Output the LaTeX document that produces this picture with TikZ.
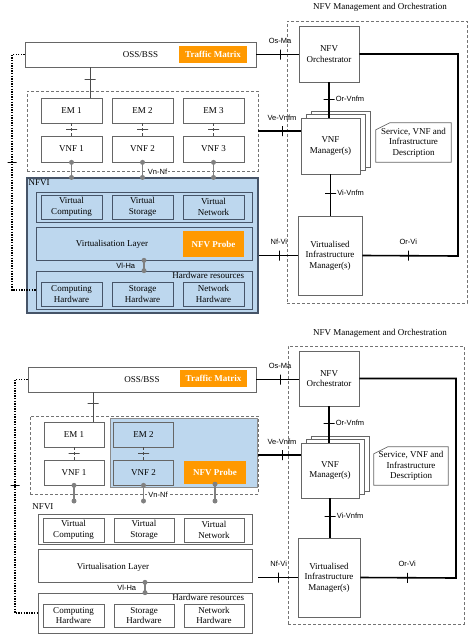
\documentclass[tikz,border=0pt]{standalone}
\usepackage{fontspec}
\setmainfont{Liberation Serif}
\setsansfont{Liberation Sans}
\usetikzlibrary{positioning,fit}
\definecolor{nfviblue}{RGB}{189,215,238}
\definecolor{probeorange}{RGB}{255,153,0}
\definecolor{nfviedge}{RGB}{70,84,104}

\begin{document}
\begin{tikzpicture}[x=1pt,y=-1pt,node distance=71pt,font=\fontsize{9}{10.5}\selectfont]
\tikzstyle{box}=[rectangle,draw=black!60,line width=0.7pt,inner sep=0pt,align=center]
\tikzstyle{blk}=[box,minimum width=61pt,minimum height=25pt]
\tikzstyle{accent}=[rectangle,fill=probeorange,text=white,inner sep=0pt,
font=\fontsize{9}{10.5}\selectfont\bfseries]
\tikzstyle{dashbox}=[rectangle,draw=black!55,densely dashed,line width=0.6pt,inner sep=0pt]
\tikzstyle{iface}=[line width=1.6pt]
\tikzstyle{vtick}=[rectangle,draw,solid,line width=0.7pt,minimum width=0pt,minimum height=10pt,inner sep=0pt]
\tikzstyle{htick}=[rectangle,draw,solid,line width=0.7pt,minimum width=11pt,minimum height=0pt,inner sep=0pt]
\tikzstyle{ifl}=[font=\sffamily\fontsize{7.5}{8}\selectfont,inner sep=0pt]
\tikzstyle{gconn}=[draw=black!50,line width=1.8pt]
\tikzstyle{joint}=[circle,fill=black!50,inner sep=0pt,minimum size=5pt]
\tikzstyle{oam}=[line width=1.5pt,dash pattern=on 1.3pt off 1.3pt]
\tikzstyle{thinl}=[draw=black!70,line width=0.6pt]

\useasboundingbox (0,0) rectangle (474,635);

\node (mano) at (380,7) {NFV Management and Orchestration};
\node[dashbox,minimum width=180pt,minimum height=282pt] (manobox) at (377,162) {};
\node[box,minimum width=231pt,minimum height=25pt] (oss) at (140.5,54.5) {OSS/BSS};
\node[accent,minimum width=68pt,minimum height=17pt] (tm) at (213,54.5) {Traffic Matrix};

\node[dashbox,minimum width=231pt,minimum height=80pt] (vnfs) at (142.5,131) {};
\node[blk] (em1) at (71.5,110.5) {EM 1};
\node[blk,right of=em1] (em2) {EM 2};
\node[blk,right of=em2] (em3) {EM 3};
\node[blk,minimum height=26pt] (vnf1) at (71.5,149) {VNF 1};
\node[blk,minimum height=26pt,right of=vnf1] (vnf2) {VNF 2};
\node[blk,minimum height=26pt,right of=vnf2] (vnf3) {VNF 3};
\node[ifl,fill=white,inner sep=1pt] (vnnf) at ([xshift=15pt]vnfs.south) {Vn-Nf};

\node[rectangle,draw=nfviedge,fill=nfviblue,line width=1.1pt,minimum width=231pt,minimum height=135pt] (nfvi) at (142.5,245.5) {};
\node[anchor=north west,inner sep=2pt] (nfvil) at (nfvi.north west) {NFVI};
\node[box,draw=nfviedge,minimum width=216pt,minimum height=30pt] (virt) at (144,207) {};
\node[blk,draw=nfviedge,minimum height=24pt] (vc) at (71.5,207) {Virtual\\Computing};
\node[blk,draw=nfviedge,minimum height=24pt,right of=vc] (vs) {Virtual\\Storage};
\node[blk,draw=nfviedge,minimum height=24pt,right of=vs] (vn) {Virtual\\Network};
\node[box,draw=nfviedge,minimum width=216pt,minimum height=33pt] (vl) at (144,243.5) {};
\node (vlt) at (112,244) {Virtualisation Layer};
\node[accent,minimum width=61pt,minimum height=26pt] (probe) at (213.5,244) {NFV Probe};
\node[box,draw=nfviedge,minimum width=216pt,minimum height=38pt] (hw) at (144,290) {};
\node[anchor=north east,inner sep=1pt] (hwl) at ([xshift=-7pt]hw.north east) {Hardware resources};
\node[blk,draw=nfviedge,minimum height=24pt] (hc) at (71.5,294) {Computing\\Hardware};
\node[blk,draw=nfviedge,minimum height=24pt,right of=hc] (hs) {Storage\\Hardware};
\node[blk,draw=nfviedge,minimum height=24pt,right of=hs] (hn) {Network\\Hardware};

\node[box,minimum width=60pt,minimum height=56pt] (orch) at (329,54) {NFV\\Orchestrator};
\node[box,fill=white,minimum width=59pt,minimum height=56pt] (vnfm3) at (340.5,139) {};
\node[box,fill=white,minimum width=59pt,minimum height=56pt] (vnfm2) at (335.5,142.5) {};
\node[box,fill=white,minimum width=59pt,minimum height=56pt] (vnfm) at (330.5,146) {VNF\\Manager(s)};
\node[align=center,inner sep=0pt,minimum width=75pt,minimum height=39pt] (desc) at (413.5,142.5) {Service, VNF and\\Infrastructure\\Description};
\draw[black!60,line width=0.7pt] ([xshift=14pt]desc.north west) -- (desc.north east) -- (desc.south east)
  -- (desc.south west) -- ([yshift=-7pt]desc.north west) -- cycle;
\node[box,minimum width=64pt,minimum height=79pt] (vim) at (330,255.5) {Virtualised\\Infrastructure\\Manager(s)};

\coordinate (orvi) at (458,256);
\coordinate (oamx) at (12,0);
\draw[iface] (oss.east) -- node[pos=0.56,vtick]{} node[pos=0.56,above=10pt,ifl]{Os-Ma} (oss.east -| orch.west);
\draw[iface] (orch.south) -- node[pos=0.47,htick]{} node[pos=0.47,right=6pt,ifl]{Or-Vnfm} (orch.south |- vnfm.north);
\draw[iface] (vnfs.east) -- node[pos=0.56,vtick]{} node[pos=0.56,above=10pt,ifl]{Ve-Vnfm} (vnfs.east -| vnfm.west);
\draw[iface] (vnfm.south) -- node[pos=0.45,htick]{} node[pos=0.45,right=6pt,ifl]{Vi-Vnfm} (vnfm.south |- vim.north);
\draw[iface] (nfvi.east |- vim.west) -- node[pos=0.52,vtick]{} node[pos=0.52,above=10pt,ifl]{Nf-Vi} (vim.west);
\draw[iface] (orch.east) -| (orvi) -- node[pos=0.52,vtick]{} node[pos=0.52,above=10pt,ifl]{Or-Vi} (vim.east);

\draw[thinl] ([xshift=18.5pt]em1.north) -- node[pos=0.61,htick]{} ([xshift=18.5pt]em1.north |- oss.south);
\foreach \i in {1,2,3}
  \draw[thinl,densely dashed] (em\i.south) -- node[htick]{} (vnf\i.north);
\foreach \i in {1,2,3}
  \draw[gconn] (vnf\i.south) node[joint]{} -- (vnf\i.south |- nfvi.north) node[joint]{};
\draw[gconn] (vl.south) node[joint]{} -- node[left=8pt,ifl,text=black]{Vl-Ha} (hw.north) node[joint]{};
\draw[oam] (oss.west) -| (oamx |- hw.west) -- (hw.west);
\node[htick,minimum width=9pt] (oamt) at (oamx |- vnf1.south) {};

\node (bmano) at (380,333) {NFV Management and Orchestration};
\node[dashbox,minimum width=176pt,minimum height=278pt] (bmanobox) at (376,485) {};
\node[box,minimum width=228pt,minimum height=25pt] (boss) at (142,379.5) {OSS/BSS};
\node[accent,minimum width=67pt,minimum height=17pt] (btm) at (213.5,378.5) {Traffic Matrix};

\node[dashbox,minimum width=228pt,minimum height=78pt] (bvnfs) at (144,455) {};
\node[rectangle,draw=black!45,fill=nfviblue,line width=0.7pt,minimum width=147pt,minimum height=69pt] (bblue) at (183.5,452.5) {};
\node[blk,minimum width=60pt] (bem1) at (74,434.5) {EM 1};
\node[blk,minimum width=60pt,right of=bem1,node distance=69.5pt] (bem2) {EM 2};
\node[blk,minimum width=60pt] (bvnf1) at (74,472.5) {VNF 1};
\node[blk,minimum width=60pt,right of=bvnf1,node distance=69.5pt] (bvnf2) {VNF 2};
\node[accent,minimum width=62pt,minimum height=23pt] (bprobe) at (215,472.5) {NFV Probe};
\node[ifl,fill=white,inner sep=1pt] (bvnnf) at ([xshift=14pt]bvnfs.south) {Vn-Nf};

\coordinate (bnfvi) at (0,501);
\node (bnfvil) at (43,507) {NFVI};
\node[box,minimum width=214pt,minimum height=30pt] (bvirt) at (145,529) {};
\node[blk,minimum width=61pt,minimum height=24pt] (bvc) at (73.5,530) {Virtual\\Computing};
\node[blk,minimum width=60pt,minimum height=24pt,right of=bvc,node distance=70.5pt] (bvs) {Virtual\\Storage};
\node[blk,minimum width=60pt,minimum height=24pt,right of=bvs,node distance=70pt] (bvn) {Virtual\\Network};
\node[box,minimum width=214pt,minimum height=33pt] (bvl) at (145,565.5) {};
\node (bvlt) at (113,567) {Virtualisation Layer};
\node[box,minimum width=214pt,minimum height=40pt] (bhw) at (145,613) {};
\node[anchor=north east,inner sep=1pt] (bhwl) at ([xshift=-7pt]bhw.north east) {Hardware resources};
\node[blk,minimum width=61pt,minimum height=23pt] (bhc) at (73.5,615.5) {Computing\\Hardware};
\node[blk,minimum width=60pt,minimum height=23pt,right of=bhc,node distance=70.5pt] (bhs) {Storage\\Hardware};
\node[blk,minimum width=60pt,minimum height=23pt,right of=bhs,node distance=70pt] (bhn) {Network\\Hardware};

\node[box,minimum width=60pt,minimum height=55pt] (borch) at (329,378.5) {NFV\\Orchestrator};
\node[box,fill=white,minimum width=58pt,minimum height=55pt] (bvnfm3) at (340,463.5) {};
\node[box,fill=white,minimum width=58pt,minimum height=55pt] (bvnfm2) at (335,467) {};
\node[box,fill=white,minimum width=58pt,minimum height=55pt] (bvnfm) at (330,470.5) {VNF\\Manager(s)};
\node[align=center,inner sep=0pt,minimum width=74pt,minimum height=38pt] (bdesc) at (411,466) {Service, VNF and\\Infrastructure\\Description};
\draw[black!60,line width=0.7pt] ([xshift=14pt]bdesc.north west) -- (bdesc.north east) -- (bdesc.south east)
  -- (bdesc.south west) -- ([yshift=-7pt]bdesc.north west) -- cycle;
\node[box,minimum width=62pt,minimum height=79pt] (bvim) at (329,577.5) {Virtualised\\Infrastructure\\Manager(s)};

\coordinate (borvi) at (456,578);
\coordinate (boamx) at (15,0);
\draw[iface] (boss.east) -- node[pos=0.56,vtick]{} node[pos=0.56,above=10pt,ifl]{Os-Ma} (boss.east -| borch.west);
\draw[iface] (borch.south) -- node[pos=0.46,htick]{} node[pos=0.46,right=6pt,ifl]{Or-Vnfm} (borch.south |- bvnfm.north);
\draw[iface] (bvnfs.east) -- node[pos=0.56,vtick]{} node[pos=0.56,above=10pt,ifl]{Ve-Vnfm} (bvnfs.east -| bvnfm.west);
\draw[iface] (bvnfm.south) -- node[pos=0.45,htick]{} node[pos=0.45,right=6pt,ifl]{Vi-Vnfm} (bvnfm.south |- bvim.north);
\draw[iface] (bvnfs.east |- bvim.west) -- node[pos=0.52,vtick]{} node[pos=0.52,above=10pt,ifl]{Nf-Vi} (bvim.west);
\draw[iface] (borch.east) -| (borvi) -- node[pos=0.51,vtick]{} node[pos=0.51,above=10pt,ifl]{Or-Vi} (bvim.east);

\draw[thinl] ([xshift=19pt]bem1.north) -- node[pos=0.63,htick]{} ([xshift=19pt]bem1.north |- boss.south);
\foreach \i in {1,2}
  \draw[thinl,densely dashed] (bem\i.south) -- node[htick]{} (bvnf\i.north);
\foreach \n in {bvnf1,bvnf2,bprobe}
  \draw[gconn] (\n.south) node[joint]{} -- (\n.south |- bnfvi) node[joint]{};
\draw[gconn] (bvl.south) node[joint]{} -- node[left=8pt,ifl,text=black]{Vl-Ha} (bhw.north) node[joint]{};
\draw[oam] (boss.west) -| (boamx |- bhw.west) -- (bhw.west);
\node[htick,minimum width=9pt] (boamt) at (boamx |- bvnf1.south) {};
\end{tikzpicture}
\end{document}
